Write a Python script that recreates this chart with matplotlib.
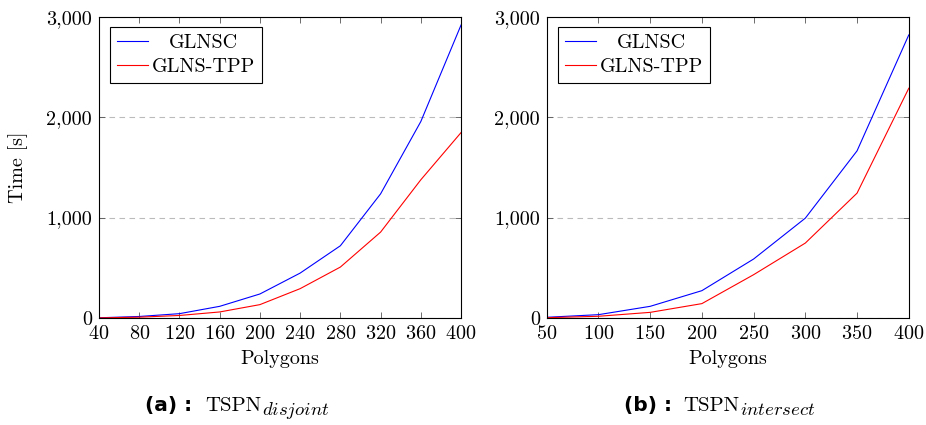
import matplotlib.pyplot as plt
import numpy as np
from matplotlib.ticker import FuncFormatter
from matplotlib.transforms import Affine2D

# running times [s] per number of polygons
polys_a = [40, 80, 120, 160, 200, 240, 280, 320, 360, 400]
glnsc_a = [2, 15, 43, 116, 239, 447, 719, 1236, 1956, 2917]
tpp_a = [1, 8, 25, 60, 133, 292, 507, 855, 1376, 1846]

polys_b = [50, 100, 150, 200, 250, 300, 350, 400]
glnsc_b = [7, 33, 116, 272, 587, 994, 1664, 2818]
tpp_b = [3, 17, 56, 143, 431, 746, 1243, 2287]

yticks = [0, 1000, 2000, 3000]

plt.rcParams['font.family'] = 'serif'
plt.rcParams['font.serif'] = ['cmr10']
plt.rcParams['mathtext.fontset'] = 'cm'
plt.rcParams['axes.formatter.use_mathtext'] = True

fig = plt.figure(figsize=(9.26, 4.25), dpi=100)
ax1 = fig.add_axes([0.1069, 0.2518, 0.391, 0.709])
ax2 = fig.add_axes([0.5904, 0.2518, 0.391, 0.709])

fmt = FuncFormatter(lambda v, p: f'{int(v):,}')
legends = []

for ax, xs, g, t in [(ax1, polys_a, glnsc_a, tpp_a), (ax2, polys_b, glnsc_b, tpp_b)]:
    ax.plot(xs, g, color='blue', lw=0.8, label='GLNSC')
    ax.plot(xs, t, color='red', lw=0.8, label='GLNS-TPP')
    ax.set_xlim(xs[0], xs[-1])
    ax.set_ylim(0, 3000)
    ax.set_xticks(xs)
    ax.set_yticks(yticks)
    ax.yaxis.set_major_formatter(fmt)
    ax.tick_params(direction='in', top=True, right=True, labelsize=14.5,
                   length=4, width=0.6, color='#555555')
    ax.tick_params(axis='x', pad=5)
    ax.tick_params(axis='y', pad=5)
    ax.grid(axis='y', color='#bbbbbb', ls=(0, (5, 4)), lw=0.8)
    for s in ax.spines.values():
        s.set_linewidth(0.8)
    ax.set_xlabel('Polygons', fontsize=14.5)
    ax.xaxis.set_label_coords(0.5, -0.105)
    leg = ax.legend(loc='upper left', fontsize=14.5, frameon=True, fancybox=False,
                    edgecolor='black', framealpha=1, handlelength=1.55,
                    borderpad=0.35, borderaxespad=0, labelspacing=0.3,
                    handletextpad=0.2, bbox_to_anchor=(0.03, 0.967))
    leg.get_frame().set_linewidth(0.8)
    legends.append(leg)

ax1.set_ylabel('Time [s]', fontsize=14.5)
ax1.yaxis.set_label_coords(-0.196, 0.5)

# centre the shorter legend entry like the longer one
fig.canvas.draw()
r = fig.canvas.get_renderer()
for leg in legends:
    t0, t1 = leg.get_texts()
    dx = (t1.get_window_extent(r).width - t0.get_window_extent(r).width) / 2
    t0.set_transform(t0.get_transform() + Affine2D().translate(dx, 0))

# sub-figure captions
for xl, xr, sub in [(0.2073, 0.2214, 'disjoint'), (0.7257, 0.7376, 'intersect')]:
    lab = '(a) :' if sub == 'disjoint' else '(b) :'
    fig.text(xl, 0.033, lab, fontsize=14.5, fontweight='bold',
             family='DejaVu Sans', ha='right', va='baseline')
    main = fig.text(xr, 0.033, 'TSPN', fontsize=15, ha='left', va='baseline')
    fig.text(0, 0, '$' + sub + '$', fontsize=13.5, ha='left', va='baseline',
             transform=main.get_transform())
    fig.canvas.draw()
    bb = main.get_window_extent(r)
    fig.texts[-1].set_transform(fig.transFigure)
    fig.texts[-1].set_position(((bb.x1 + 1) / fig.bbox.width,
                                (0.033 * fig.bbox.height - 4) / fig.bbox.height))

plt.savefig('out.png')
